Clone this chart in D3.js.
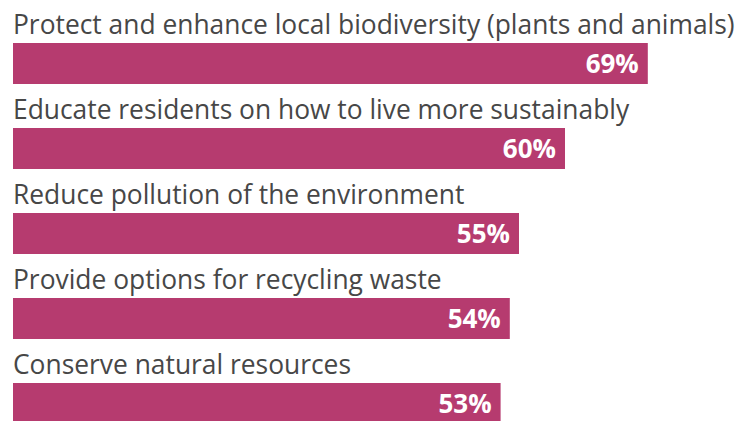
<!DOCTYPE html>
<html lang="en">
<head>
<meta charset="UTF-8">
<title>Sustainability priorities</title>
<script src="https://d3js.org/d3.v7.min.js"></script>
<style>
    body { margin: 0; background: #fff; }
    .label { font-family: "Open Sans", "Noto Sans", sans-serif; font-size: 23px; fill: #474747; }
    .value { font-family: "Open Sans", "Noto Sans", sans-serif; font-size: 26px; font-weight: 700; fill: #fff; }
</style>
</head>
<body>
<div id="chart"></div>
<script>
    // data
    var categories = [
        "Protect and enhance local biodiversity (plants and animals)",
        "Educate residents on how to live more sustainably",
        "Reduce pollution of the environment",
        "Provide options for recycling waste",
        "Conserve natural resources"
    ];
    var values = [69, 60, 55, 54, 53];

    var width = 747, height = 421;
    var svg = d3.select("#chart").append("svg")
        .attr("width", width)
        .attr("height", height);

    // x: percent -> pixels (69% ends near x=648)
    var x = d3.scaleLinear().domain([0, 100]).range([13, 933]);

    // each row = label above + bar
    var y = d3.scaleBand()
        .domain(categories)
        .range([0, 425]);

    var barTop = 43, barH = 41;

    var rows = svg.selectAll(".row")
        .data(categories)
        .enter().append("g")
        .attr("class", "row")
        .attr("transform", function (d) { return "translate(0," + y(d) + ")"; });

    var labels = rows.append("text")
        .attr("class", "label")
        .attr("x", 13)
        .attr("y", 34)
        .text(function (d) { return d; });

    // the longest label runs to about x=735 in the original, size the font to that
    var w = labels.node().getComputedTextLength();
    var fs = 23 * 722 / w;
    labels.style("font-size", fs + "px");

    rows.append("rect")
        .attr("x", x(0))
        .attr("y", barTop)
        .attr("height", barH)
        .attr("width", function (d, i) { return x(values[i]) - x(0); })
        .attr("fill", "#b63b6f");

    rows.append("text")
        .attr("class", "value")
        .attr("x", function (d, i) { return x(values[i]) - 9; })
        .attr("y", barTop + 30)
        .attr("text-anchor", "end")
        .text(function (d, i) { return values[i] + "%"; });
</script>
</body>
</html>
